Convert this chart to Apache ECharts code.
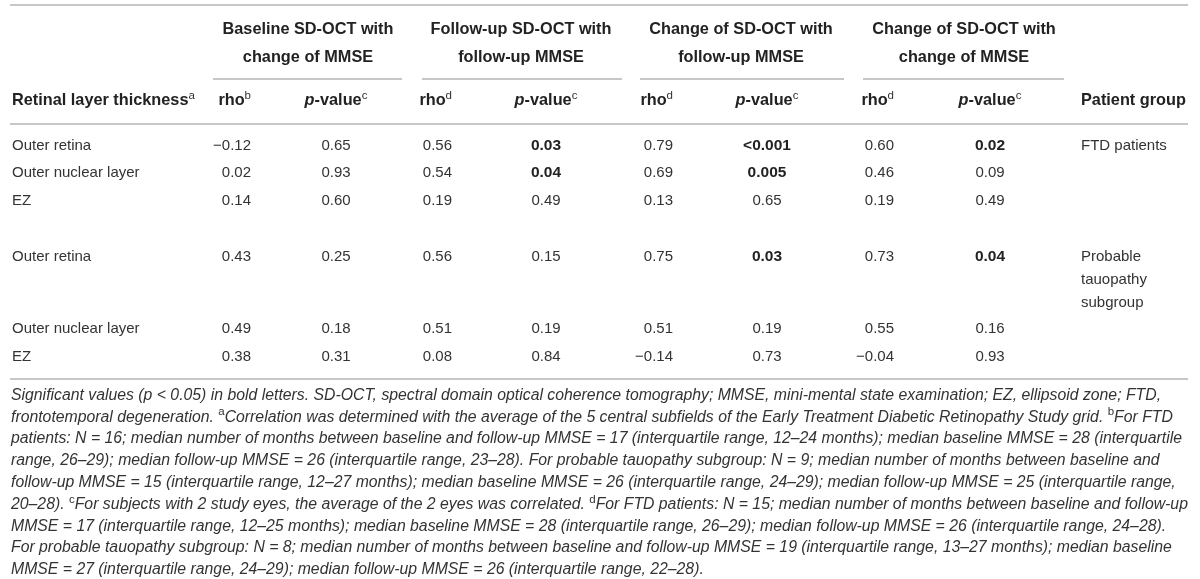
<!DOCTYPE html>
<html>
<head>
<meta charset="utf-8">
<script src="https://cdn.jsdelivr.net/npm/echarts@6/dist/echarts.min.js"></script>
<style>
  html, body { margin: 0; padding: 0; background: #fff; }
  #chart { width: 1200px; height: 579px; }
</style>
</head>
<body>
<div id="chart"></div>
<script>
// ---- table data ----
const layers = ['Outer retina', 'Outer nuclear layer', 'EZ', 'Outer retina', 'Outer nuclear layer', 'EZ'];
const patientGroups = ['FTD patients', '', '', 'Probable\ntauopathy\nsubgroup', '', ''];

const groupTitles = [
  'Baseline SD-OCT with\nchange of MMSE',
  'Follow-up SD-OCT with\nfollow-up MMSE',
  'Change of SD-OCT with\nfollow-up MMSE',
  'Change of SD-OCT with\nchange of MMSE'
];
const rhoMarks = ['b', 'd', 'd', 'd'];

const rhoBaseline = [-0.12, 0.02, 0.14, 0.43, 0.49, 0.38];
const pBaseline = ['0.65', '0.93', '0.60', '0.25', '0.18', '0.31'];
const rhoFollowUp = [0.56, 0.54, 0.19, 0.56, 0.51, 0.08];
const pFollowUp = ['0.03', '0.04', '0.49', '0.15', '0.19', '0.84'];
const rhoChangeFollowUp = [0.79, 0.69, 0.13, 0.75, 0.51, -0.14];
const pChangeFollowUp = ['<0.001', '0.005', '0.65', '0.03', '0.19', '0.73'];
const rhoChangeChange = [0.60, 0.46, 0.19, 0.73, 0.55, -0.04];
const pChangeChange = ['0.02', '0.09', '0.49', '0.04', '0.16', '0.93'];

const rhoCols = [rhoBaseline, rhoFollowUp, rhoChangeFollowUp, rhoChangeChange];
const pCols = [pBaseline, pFollowUp, pChangeFollowUp, pChangeChange];

const notes = [
  'Significant values (p < 0.05) in bold letters. SD-OCT, spectral domain optical coherence tomography; MMSE, mini-mental state examination; EZ, ellipsoid zone; FTD,',
  'frontotemporal degeneration. {s|a}Correlation was determined with the average of the 5 central subfields of the Early Treatment Diabetic Retinopathy Study grid. {s|b}For FTD',
  'patients: N = 16; median number of months between baseline and follow-up MMSE = 17 (interquartile range, 12–24 months); median baseline MMSE = 28 (interquartile',
  'range, 26–29); median follow-up MMSE = 26 (interquartile range, 23–28). For probable tauopathy subgroup: N = 9; median number of months between baseline and',
  'follow-up MMSE = 15 (interquartile range, 12–27 months); median baseline MMSE = 26 (interquartile range, 24–29); median follow-up MMSE = 25 (interquartile range,',
  '20–28). {s|c}For subjects with 2 study eyes, the average of the 2 eyes was correlated. {s|d}For FTD patients: N = 15; median number of months between baseline and follow-up',
  'MMSE = 17 (interquartile range, 12–25 months); median baseline MMSE = 28 (interquartile range, 26–29); median follow-up MMSE = 26 (interquartile range, 24–28).',
  'For probable tauopathy subgroup: N = 8; median number of months between baseline and follow-up MMSE = 19 (interquartile range, 13–27 months); median baseline',
  'MMSE = 27 (interquartile range, 24–29); median follow-up MMSE = 26 (interquartile range, 22–28).'
];

// ---- layout (pixel units of the hidden axes) ----
const W = 1200, H = 579;
const rowY = [146, 173, 201, 257, 329, 357];
const layerX = 12;
const groupX = 1081;
const rhoX = [251, 452, 673, 894];       // right edge
const pX = [336, 546, 767, 990];         // centre
const titleX = [308, 521, 741, 964];
const titleY = 43.5;
const spans = [[213, 402], [422, 622], [640, 844], [863, 1064]];
const headY = 101;
const noteY0 = 395.5, noteStep = 21.8;

const FONT = "'Liberation Sans', Arial, Helvetica, sans-serif";
const TEXT = '#333';
const DARK = '#222';
const RULE = '#b4b4b4';
const HEAD = 16.3;

const rich = {
  s: { fontSize: 11.5, verticalAlign: 'top', lineHeight: 11, fontFamily: FONT, fill: TEXT, color: TEXT },
  i: { fontStyle: 'italic', fontWeight: 'bold', fontSize: HEAD, fontFamily: FONT, fill: DARK, color: DARK }
};

const fmtRho = v => (v < 0 ? '\u2212' : '') + Math.abs(v).toFixed(2);
const pNum = s => parseFloat(s.replace('<', ''));

// ---- build cells ----
const cells = [];
function cell(x, y, text, opt) {
  cells.push(Object.assign({ x, y, text, align: 'left', weight: 'normal', style: 'normal', size: 15, lh: 19, color: TEXT, va: 'middle' }, opt || {}));
}

groupTitles.forEach((t, g) => cell(titleX[g], titleY, t, { align: 'center', weight: 'bold', size: HEAD, lh: 28, color: DARK }));

const headOpt = { weight: 'bold', size: HEAD, lh: 23, color: DARK };
cell(layerX, headY, 'Retinal layer thickness{s|a}', headOpt);
rhoMarks.forEach((m, g) => {
  cell(rhoX[g], headY, 'rho{s|' + m + '}', Object.assign({ align: 'right' }, headOpt));
  cell(pX[g], headY, '{i|p}-value{s|c}', Object.assign({ align: 'center' }, headOpt));
});
cell(groupX, headY, 'Patient group', headOpt);

layers.forEach((name, i) => {
  const y = rowY[i];
  cell(layerX, y, name);
  rhoCols.forEach((col, g) => cell(rhoX[g], y, fmtRho(col[i]), { align: 'right' }));
  pCols.forEach((col, g) => {
    const sig = pNum(col[i]) < 0.05;
    cell(pX[g], y, col[i], { align: 'center', weight: sig ? 'bold' : 'normal', size: sig ? 15.5 : 15, color: sig ? DARK : TEXT });
  });
  if (patientGroups[i]) cell(groupX, y - 11.5, patientGroups[i], { lh: 23, va: 'top' });
});

notes.forEach((t, k) => cell(layerX - 1, noteY0 + k * noteStep, t, { style: 'italic', size: 15.8, lh: 22 }));

// horizontal rules: [x1, y, x2]
const rules = [[10, 5, 1188], [10, 124, 1188], [10, 379, 1188]];
spans.forEach(s => rules.push([s[0], 79, s[1]]));

const chart = echarts.init(document.getElementById('chart'), null, { renderer: 'canvas' });

chart.setOption({
  animation: false,
  backgroundColor: '#fff',
  grid: { left: 0, right: 0, top: 0, bottom: 0 },
  xAxis: { type: 'value', min: 0, max: W, show: false },
  yAxis: { type: 'value', min: 0, max: H, inverse: true, show: false },
  series: [
    {
      type: 'custom',
      silent: true,
      clip: false,
      data: rules.map(r => [r[0], r[1], r[2]]),
      renderItem: (params, api) => {
        const a = api.coord([api.value(0), api.value(1)]);
        const b = api.coord([api.value(2), api.value(1)]);
        return {
          type: 'line',
          shape: { x1: a[0], y1: a[1], x2: b[0], y2: b[1] },
          style: { stroke: RULE, lineWidth: 1.5 }
        };
      }
    },
    {
      type: 'custom',
      silent: true,
      clip: false,
      data: cells.map(c => [c.x, c.y]),
      renderItem: (params, api) => {
        const c = cells[params.dataIndex];
        const pt = api.coord([api.value(0), api.value(1)]);
        return {
          type: 'text',
          x: pt[0],
          y: pt[1],
          style: {
            text: c.text,
            rich: rich,
            fill: c.color,
            fontSize: c.size,
            fontFamily: FONT,
            fontWeight: c.weight,
            fontStyle: c.style,
            lineHeight: c.lh,
            align: c.align,
            verticalAlign: c.va,
            textAlign: c.align,
            textVerticalAlign: c.va
          }
        };
      }
    }
  ]
});

window.addEventListener('resize', () => chart.resize());
</script>
</body>
</html>
